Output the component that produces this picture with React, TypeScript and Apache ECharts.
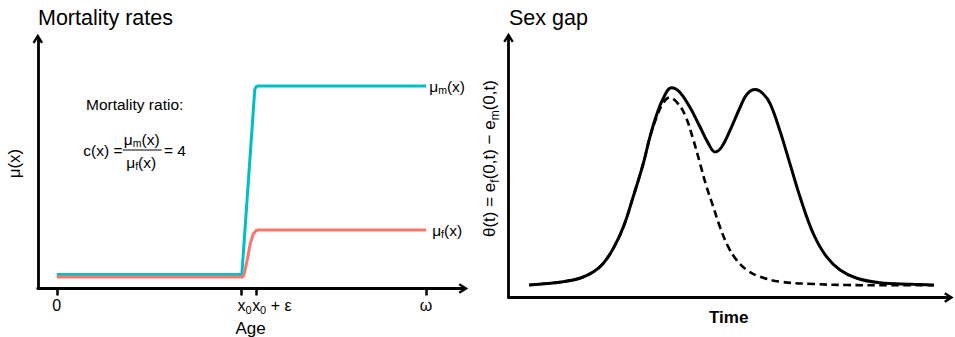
import React, { useEffect, useRef } from 'react';
import * as echarts from 'echarts';

const FONT = '"Liberation Sans", Arial, Helvetica, sans-serif';
const TEAL = '#00BFC4';
const SALMON = '#F8766D';

// ---- Left panel: mortality rates by age ----
const ageTickValues = [0, 50, 54, 100];
const ageTickLabels = ['0', '{p| }{a|x}{s|0}', '{q| }{a|x}{s|0}{a| + ε}', 'ω'];
const maleAge = [0, 50.1, 53.6, 54.0, 54.6, 100];
const maleRate = [5.6, 5.6, 79.6, 80.8, 81.0, 81.0];
const femaleAge = [0, 50.3, 50.8, 51.5, 52.4, 53.2, 54.0, 54.6, 100];
const femaleRate = [4.6, 4.6, 6.0, 11.0, 18.0, 21.8, 23.2, 23.4, 23.4];

// ---- Right panel: sex gap over time ----
const gapTime = [4.7, 12.4, 16.2, 19.3, 21.5, 23.8, 26.1, 28.3, 30.6, 32.1, 33.6, 35.1, 37.0, 38.9, 41.2,
  43.5, 45.4, 46.9, 48.4, 50.3, 52.6, 54.1, 56.0, 57.8, 59.4, 61.6, 63.9, 66.2, 69.2, 72.2, 75.3, 79.1, 84.3, 91.9, 96.6];
const gapTotal = [4.8, 6.1, 7.4, 9.9, 13.1, 18.9, 27.2, 38.7, 51.5, 61.7, 70.1, 76.5, 80.7, 79.0, 73.2,
  65.6, 59.2, 56.0, 57.9, 64.3, 73.2, 78.1, 80.0, 78.4, 74.6, 64.3, 51.5, 38.7, 24.6, 15.7, 10.6, 7.4, 5.7, 5.1, 4.8];
const gapTimeFirst = [4.7, 12.4, 16.2, 19.3, 21.5, 23.8, 26.1, 28.3, 30.6, 32.1, 33.6, 35.1, 36.5, 38.2, 40.1,
  42.0, 43.5, 45.0, 46.5, 48.0, 49.9, 51.8, 54.1, 57.1, 61.6, 69.2, 76.8, 88.1, 96.6];
const gapFirstWave = [4.8, 6.1, 7.4, 9.9, 13.1, 18.9, 27.2, 38.7, 51.5, 61.6, 69.3, 74.7, 76.9, 75.2, 70.1,
  60.5, 51.5, 42.5, 34.9, 27.2, 19.5, 14.4, 10.6, 8.0, 6.1, 5.2, 4.8, 4.7, 4.7];

const zip = (xs: number[], ys: number[]) => xs.map((x, i) => [x, ys[i]]);

const ARROW = 'path://M0,8L5,0L10,8L8.1,9.2L5,4.24L1.9,9.2Z';

const axisLineStyle = (withArrow: boolean) => ({
  show: true,
  onZero: false,
  symbol: withArrow ? ['none', ARROW] : ['none', 'none'],
  symbolSize: [10.5, 9.6],
  lineStyle: { color: '#000', width: 2.8 },
});

const richMain = { fontSize: 16, lineHeight: 20, fontFamily: FONT, color: '#000' };
const richSub = { fontSize: 11, lineHeight: 11, verticalAlign: 'bottom', fontFamily: FONT, color: '#000' };
const fracRich = {
  m: { fontSize: 15.5, lineHeight: 18, fontFamily: FONT, fill: '#000' },
  s: { fontSize: 10.5, lineHeight: 10.5, verticalAlign: 'bottom', fontFamily: FONT, fill: '#000' },
};

const option: any = {
  animation: false,
  backgroundColor: '#fff',
  textStyle: { fontFamily: FONT, color: '#000' },
  title: [
    { text: 'Mortality rates', left: 38, top: 7, padding: 0, textStyle: { fontSize: 21.5, fontWeight: 'normal', color: '#000', fontFamily: FONT } },
    { text: 'Sex gap', left: 509, top: 7, padding: 0, textStyle: { fontSize: 21.5, fontWeight: 'normal', color: '#000', fontFamily: FONT } },
  ],
  grid: [
    { left: 37.8, top: 38.6, width: 425.6, height: 249.9, outerBoundsMode: 'none', containLabel: false },
    { left: 508.5, top: 37.6, width: 440.4, height: 259.9, outerBoundsMode: 'none', containLabel: false },
  ],
  xAxis: [
    {
      type: 'value', gridIndex: 0, min: -5.15, max: 110.1,
      axisLine: axisLineStyle(true),
      splitLine: { show: false },
      axisTick: { show: true, customValues: ageTickValues, length: 7, lineStyle: { color: '#000', width: 2.5 } },
      axisLabel: {
        show: true, customValues: ageTickValues, margin: 7, fontSize: 16, lineHeight: 20, color: '#000', fontFamily: FONT,
        formatter: (v: number) => {
          const i = ageTickValues.indexOf(v);
          return i >= 0 ? ageTickLabels[i] : '';
        },
        rich: { a: richMain, s: richSub, p: { width: 6.1, fontSize: 16, lineHeight: 20 }, q: { width: 31.3, fontSize: 16, lineHeight: 20 } },
      },
      name: 'Age', nameLocation: 'middle', nameGap: 23.5,
      nameTextStyle: { fontSize: 17, color: '#000', fontFamily: FONT },
    },
    {
      type: 'value', gridIndex: 1, min: 0, max: 100,
      axisLine: axisLineStyle(true),
      splitLine: { show: false }, axisTick: { show: false }, axisLabel: { show: false },
      name: 'Time', nameLocation: 'middle', nameGap: 11.5,
      nameTextStyle: { fontSize: 17, fontWeight: 'bold', color: '#000', fontFamily: FONT },
    },
  ],
  yAxis: [
    {
      type: 'value', gridIndex: 0, min: 0, max: 100,
      axisLine: axisLineStyle(true),
      splitLine: { show: false }, axisTick: { show: false }, axisLabel: { show: false },
      name: 'μ(x)', nameLocation: 'middle', nameGap: 14.5, nameRotate: 90,
      nameTextStyle: { fontSize: 17, color: '#000', fontFamily: FONT },
    },
    {
      type: 'value', gridIndex: 1, min: 0, max: 100,
      axisLine: axisLineStyle(true),
      splitLine: { show: false }, axisTick: { show: false }, axisLabel: { show: false },
      name: '{a|θ(t) = e}{s|f}{a|(0,t) − e}{s|m}{a|(0,t)}', nameLocation: 'middle', nameGap: 8, nameRotate: 90,
      nameTextStyle: {
        fontSize: 17, color: '#000', fontFamily: FONT, padding: [0, 0, 0, 18],
        rich: {
          a: { fontSize: 17, lineHeight: 22, fontFamily: FONT, color: '#000' },
          s: { fontSize: 12, lineHeight: 12, verticalAlign: 'bottom', fontFamily: FONT, color: '#000' },
        },
      },
    },
  ],
  series: [
    {
      type: 'line', xAxisIndex: 0, yAxisIndex: 0, data: zip(maleAge, maleRate), showSymbol: false, symbol: 'none', silent: true,
      lineStyle: { color: TEAL, width: 3 }, z: 3,
      endLabel: {
        show: true, align: 'center', distance: 21, formatter: '{m|μ}{s|m}{m|(x)}',
        rich: { m: { fontSize: 15.5, lineHeight: 18, fontFamily: FONT, color: '#000' }, s: { fontSize: 10.5, lineHeight: 10.5, verticalAlign: 'bottom', fontFamily: FONT, color: '#000' } },
      },
    },
    {
      type: 'line', xAxisIndex: 0, yAxisIndex: 0, data: zip(femaleAge, femaleRate), showSymbol: false, symbol: 'none', silent: true,
      lineStyle: { color: SALMON, width: 3 }, z: 4,
      endLabel: {
        show: true, align: 'center', distance: 21, formatter: '{m|μ}{s|f}{m|(x)}',
        rich: { m: { fontSize: 15.5, lineHeight: 18, fontFamily: FONT, color: '#000' }, s: { fontSize: 10.5, lineHeight: 10.5, verticalAlign: 'bottom', fontFamily: FONT, color: '#000' } },
      },
    },
    {
      type: 'line', xAxisIndex: 1, yAxisIndex: 1, data: zip(gapTimeFirst, gapFirstWave), showSymbol: false, symbol: 'none', silent: true,
      smooth: 0.4, lineStyle: { color: '#000', width: 2.6, type: [7.5, 4.5] }, z: 3,
    },
    {
      type: 'line', xAxisIndex: 1, yAxisIndex: 1, data: zip(gapTime, gapTotal), showSymbol: false, symbol: 'none', silent: true,
      smooth: 0.4, lineStyle: { color: '#000', width: 3 }, z: 4,
    },
  ],
  graphic: [
    { type: 'text', x: 86, y: 104, silent: true, style: { text: 'Mortality ratio:', fontSize: 15.5, fontFamily: FONT, fill: '#000', align: 'left', verticalAlign: 'middle' } },
    { type: 'text', x: 83.3, y: 150.5, silent: true, style: { text: 'c(x) =', fontSize: 15.5, fontFamily: FONT, fill: '#000', align: 'left', verticalAlign: 'middle' } },
    { type: 'text', x: 141.7, y: 139, silent: true, style: { text: '{m|μ}{s|m}{m|(x)}', align: 'center', verticalAlign: 'middle', fill: '#000', rich: fracRich } },
    { type: 'line', silent: true, shape: { x1: 122.7, y1: 150, x2: 161.7, y2: 150 }, style: { stroke: '#000', lineWidth: 1 } },
    { type: 'text', x: 141.2, y: 162.5, silent: true, style: { text: '{m|μ}{s|f}{m|(x)}', align: 'center', verticalAlign: 'middle', fill: '#000', rich: fracRich } },
    { type: 'text', x: 164, y: 150.5, silent: true, style: { text: '= 4', fontSize: 15.5, fontFamily: FONT, fill: '#000', align: 'left', verticalAlign: 'middle' } },
  ],
};

export default function App() {
  const ref = useRef<HTMLDivElement>(null);
  useEffect(() => {
    const chart = echarts.init(ref.current!, null, { renderer: 'svg' });
    chart.setOption(option);
    return () => chart.dispose();
  }, []);
  return <div ref={ref} style={{ position: 'fixed', left: 0, top: 0, width: 955, height: 337 }} />;
}
